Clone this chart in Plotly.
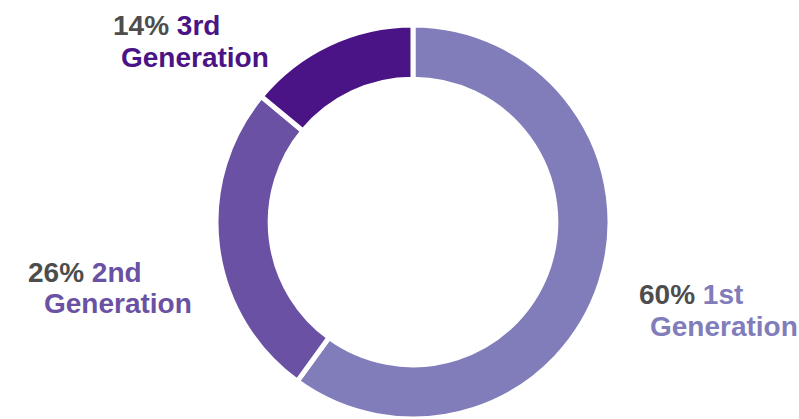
import plotly.graph_objects as go

categories = ["1st Generation", "2nd Generation", "3rd Generation"]
short_names = ["1st", "2nd", "3rd"]
values = [60, 26, 14]
colors = ["#807DBA", "#6A51A3", "#4A1486"]
pct_color = "#4D4D4D"

W, H = 799, 419


def px(x):
    return x / W


def py(y):
    return 1 - y / H


cx, cy, r = 413, 222, 197

fig = go.Figure(go.Pie(
    labels=categories,
    values=values,
    sort=False,
    direction="clockwise",
    rotation=0,
    hole=0.725,
    textinfo="none",
    marker=dict(colors=colors, line=dict(color="white", width=5)),
    domain=dict(x=[px(cx - r), px(cx + r)], y=[max(0, py(cy + r)), py(cy - r)]),
    showlegend=False,
))

# label positions (pixel coords of left edge / vertical centre of each line)
label_pos = {
    "3rd Generation": [(111, 26), (119, 57)],
    "2nd Generation": [(26, 272), (42, 303)],
    "1st Generation": [(637, 294), (648, 326)],
}

font = dict(family="Liberation Sans, Arial, sans-serif", size=28)
annotations = []
for cat, short, val, col in zip(categories, short_names, values, colors):
    (x1, y1), (x2, y2) = label_pos[cat]
    annotations.append(dict(
        x=px(x1), y=py(y1), xref="paper", yref="paper",
        xanchor="left", yanchor="middle", showarrow=False,
        text=f"<b><span style='color:{pct_color}'>{val}%</span> <span style='color:{col}'>{short}</span></b>",
        font=font,
    ))
    annotations.append(dict(
        x=px(x2), y=py(y2), xref="paper", yref="paper",
        xanchor="left", yanchor="middle", showarrow=False,
        text=f"<b><span style='color:{col}'>Generation</span></b>",
        font=font,
    ))

fig.update_layout(
    width=W, height=H,
    margin=dict(l=0, r=0, t=0, b=0),
    paper_bgcolor="white", plot_bgcolor="white",
    annotations=annotations,
)

fig.write_html(
    "out.html",
    config={"displayModeBar": False},
    post_script="document.body.style.margin='0';document.body.style.overflow='hidden';",
)
